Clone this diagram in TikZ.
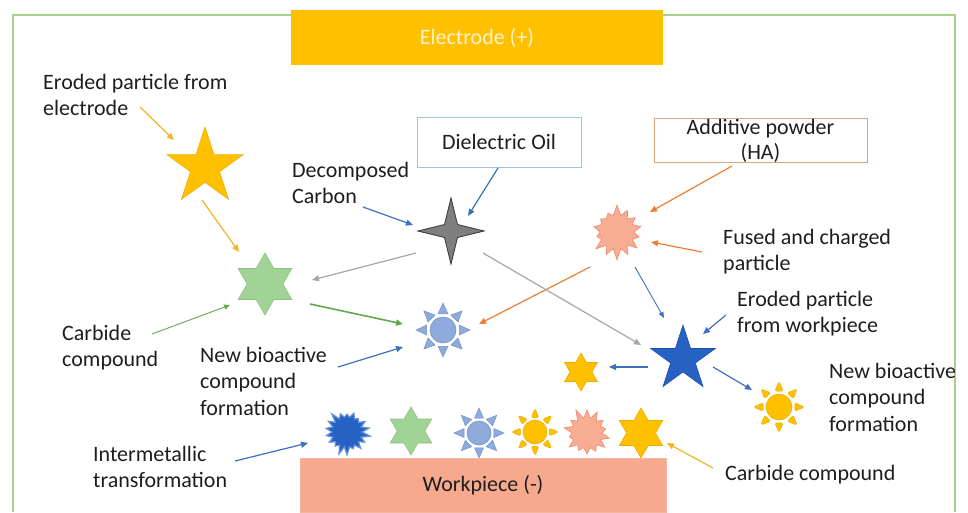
\documentclass[tikz,border=0pt]{standalone}
\usepackage{fontspec}
\setmainfont{Carlito}
\usetikzlibrary{shapes.geometric,shapes.symbols,arrows.meta,calc}
\definecolor{frameG}{HTML}{A9D18E}
\definecolor{elecY}{HTML}{FFC000}
\definecolor{elecT}{HTML}{FFF2CC}
\definecolor{dielB}{HTML}{9DC3E6}
\definecolor{addO}{HTML}{DBA582}
\definecolor{salmonF}{HTML}{F8AC92}
\definecolor{salmonE}{HTML}{F0876A}
\definecolor{wpF}{HTML}{F7A98D}
\definecolor{wpE}{HTML}{F3B79F}
\definecolor{darkB}{HTML}{2662C4}
\definecolor{darkBE}{HTML}{1F50A8}
\definecolor{lightB}{HTML}{8FAADC}
\definecolor{lightBE}{HTML}{7092CE}
\definecolor{greenF}{HTML}{A2D396}
\definecolor{greenE}{HTML}{8CC27F}
\definecolor{greyF}{HTML}{7F7F7F}
\definecolor{greyE}{HTML}{3F3F3F}
\definecolor{yelE}{HTML}{EBAE00}
\definecolor{arrY}{HTML}{F2B523}
\definecolor{arrB}{HTML}{3D70BE}
\definecolor{arrGy}{HTML}{A6A6A6}
\definecolor{arrGr}{HTML}{5FAA4A}
\definecolor{arrO}{HTML}{ED7D31}
\definecolor{txt}{HTML}{1E1E1E}
\newcommand\mlines[1]{\begin{tabular}[t]{@{}l@{}}#1\end{tabular}}
\newcommand\sunrays[5]{%
  \foreach \a in {0,45,...,315}{%
    \path[#5] ([shift={(\a-#4:#2)}]#1.center) -- ([shift={(\a:#3)}]#1.center)
      -- ([shift={(\a+#4:#2)}]#1.center) -- cycle;}}
\begin{document}
\begin{tikzpicture}[x=1pt,y=-1pt,font=\fontsize{22}{26.5}\selectfont,
  lbl/.style={anchor=base west,inner sep=0pt,text=txt},
  shp/.style={shape=star,inner sep=0pt,line width=0.6pt},
  burst/.style={shape=starburst,inner sep=0pt,line width=0.6pt},
  core/.style={circle,inner sep=0pt,line width=0.6pt},
  arr/.style={-{Triangle[length=7pt,width=6pt]},line width=1.2pt},
  thinarr/.style={-{Triangle[length=6pt,width=5pt]},line width=0.9pt}]
\useasboundingbox (0,0) rectangle (968,512);
% frame
\draw[frameG,line width=1.2pt] (13,512) -- (13,15) -- (955,15) -- (955,512);
% boxes
\node[fill=elecY,minimum width=372pt,minimum height=55pt,inner sep=0pt,text=elecT] (elec) at (477,37.5) {Electrode (+)};
\node[draw=dielB,line width=0.9pt,fill=white,minimum width=164pt,minimum height=50pt,inner sep=0pt,text=txt] (diel) at (499,142) {Dielectric Oil};
\node[draw=addO,line width=0.9pt,minimum width=213pt,minimum height=44pt,inner sep=0pt] (add) at (760.5,140) {};
\node[anchor=base,inner sep=0pt,text=txt,font=\fontsize{22}{25}\selectfont] (addT) at (760.5,134)
  {\begin{tabular}[t]{@{}c@{}}Additive powder\\(HA)\end{tabular}};
\node[fill=wpF,draw=wpE,line width=0.8pt,minimum width=366pt,minimum height=54pt,inner sep=0pt,text=txt] (wp) at (483,485) {Workpiece (-)};
% labels
\node[lbl] (elecL) at (43,89) {\mlines{Eroded particle from\\electrode}};
\node[lbl] (decL) at (292,177) {\mlines{Decomposed\\Carbon}};
\node[lbl] (carbL) at (62,340) {\mlines{Carbide\\compound}};
\node[lbl] (newL) at (200,362) {\mlines{New bioactive\\compound\\formation}};
\node[lbl] (interL) at (93,461) {\mlines{Intermetallic\\transformation}};
\node[lbl] (fusL) at (723,244) {\mlines{Fused and charged\\particle}};
\node[lbl] (eroL) at (737,306) {\mlines{Eroded particle\\from workpiece}};
\node[lbl] (newR) at (829,378) {\mlines{New bioactive\\compound\\formation}};
\node[lbl] (carbR) at (725,480) {Carbide compound};
% particles
\node[shp,star points=5,star point ratio=2.618,minimum size=80pt,fill=elecY,draw=yelE] (ystar) at (205,167) {};
\node[shp,star points=4,star point ratio=3.6,minimum size=66pt,fill=greyF,draw=greyE,line width=0.9pt] (cstar) at (451,231) {};
\node[shp,star points=6,star point ratio=1.732,minimum size=62pt,fill=greenF,draw=greenE] (gstar) at (265,284) {};
\node[burst,starburst points=14,starburst point height=11pt,random starburst=7,minimum size=56pt,fill=salmonF,draw=salmonE] (fsun) at (617,232) {};
\node[core,minimum size=26pt,fill=lightB,draw=lightBE] (bsun) at (443,330) {};
\sunrays{bsun}{17}{27}{17}{fill=lightB,draw=lightBE,line width=0.5pt}
\node[shp,star points=5,star point ratio=2.618,minimum size=68pt,fill=darkB,draw=darkBE] (bstar) at (683,359) {};
\node[shp,star points=6,star point ratio=1.732,minimum size=38pt,fill=elecY,draw=yelE] (ys6) at (581,372) {};
\node[core,minimum size=26pt,fill=elecY,draw=yelE] (ysun) at (779,407) {};
\sunrays{ysun}{16.5}{25.5}{15}{fill=elecY,draw=yelE,line width=0.5pt,rounded corners=1.5pt}
% bottom row
\node[burst,starburst points=18,starburst point height=9pt,random starburst=3,minimum size=48pt,fill=darkB,draw=darkB!70!white,line width=1.2pt] (b1) at (347,432) {};
\node[shp,star points=6,star point ratio=1.732,minimum size=48pt,fill=greenF,draw=greenE] (b2) at (411,431) {};
\node[core,minimum size=24pt,fill=lightB,draw=lightBE] (b3) at (479,433) {};
\sunrays{b3}{15.5}{25}{17}{fill=lightB,draw=lightBE,line width=0.5pt}
\node[core,minimum size=24pt,fill=elecY,draw=yelE] (b4) at (535,432) {};
\sunrays{b4}{15}{23.5}{15}{fill=elecY,draw=yelE,line width=0.5pt,rounded corners=1.5pt}
\node[burst,starburst points=14,starburst point height=11pt,random starburst=11,minimum size=52pt,fill=salmonF,draw=salmonE] (b5) at (587,433) {};
\node[shp,star points=6,star point ratio=1.732,minimum size=50pt,fill=elecY,draw=yelE] (b6) at (641,433) {};
% arrows
\draw[arr,arrY] ($(elecL.base west)+(97,18)$) -- ($(ystar)+(-31,-27)$);
\draw[arr,arrY] ($(ystar)+(-3,33)$) -- ($(gstar)+(-26,-32)$);
\draw[arr,arrGy] ($(cstar)+(-35,22)$) -- ($(gstar)+(47,-4)$);
\draw[arr,arrGr,line width=1.6pt] ($(gstar)+(45,20)$) -- ($(bsun)+(-40,-6)$);
\draw[thinarr,arrGr] ($(carbL.base west)+(90,-6)$) -- ($(gstar)+(-35,21)$);
\draw[arr,arrB] ($(newL.base west)+(138,5)$) -- ($(bsun)+(-40,17)$);
\draw[arr,arrO] ($(fsun)+(-27,35)$) -- ($(bsun)+(36,-6)$);
\draw[arr,arrB] ($(decL.base west)+(71,30)$) -- ($(cstar)+(-38,-6)$);
\draw[arr,arrB] ($(diel)+(-1,26)$) -- ($(cstar)+(17,-15)$);
\draw[arr,arrGy] ($(cstar)+(32,22)$) -- ($(bstar)+(-42,-14)$);
\draw[arr,arrO] ($(add)+(-28.5,26)$) -- ($(fsun)+(33,-20)$);
\draw[arr,arrO] ($(fusL.base west)+(-21,8)$) -- ($(fsun)+(34,10)$);
\draw[thinarr,arrB] ($(fsun)+(18,35)$) -- ($(bstar)+(-19,-41)$);
\draw[arr,arrB] ($(eroL.base west)+(-11,9)$) -- ($(bstar)+(20,-25)$);
\draw[arr,arrB] ($(bstar)+(-35,8)$) -- ($(ys6)+(28,-5)$);
\draw[arr,arrB] ($(bstar)+(30,8)$) -- ($(ysun)+(-27,-17)$);
\draw[arr,arrY] ($(carbR.base west)+(-12,-12)$) -- ($(b6)+(26,10)$);
\draw[arr,arrB] ($(interL.base west)+(142,0)$) -- ($(b1)+(-39,11)$);
\end{tikzpicture}
\end{document}
